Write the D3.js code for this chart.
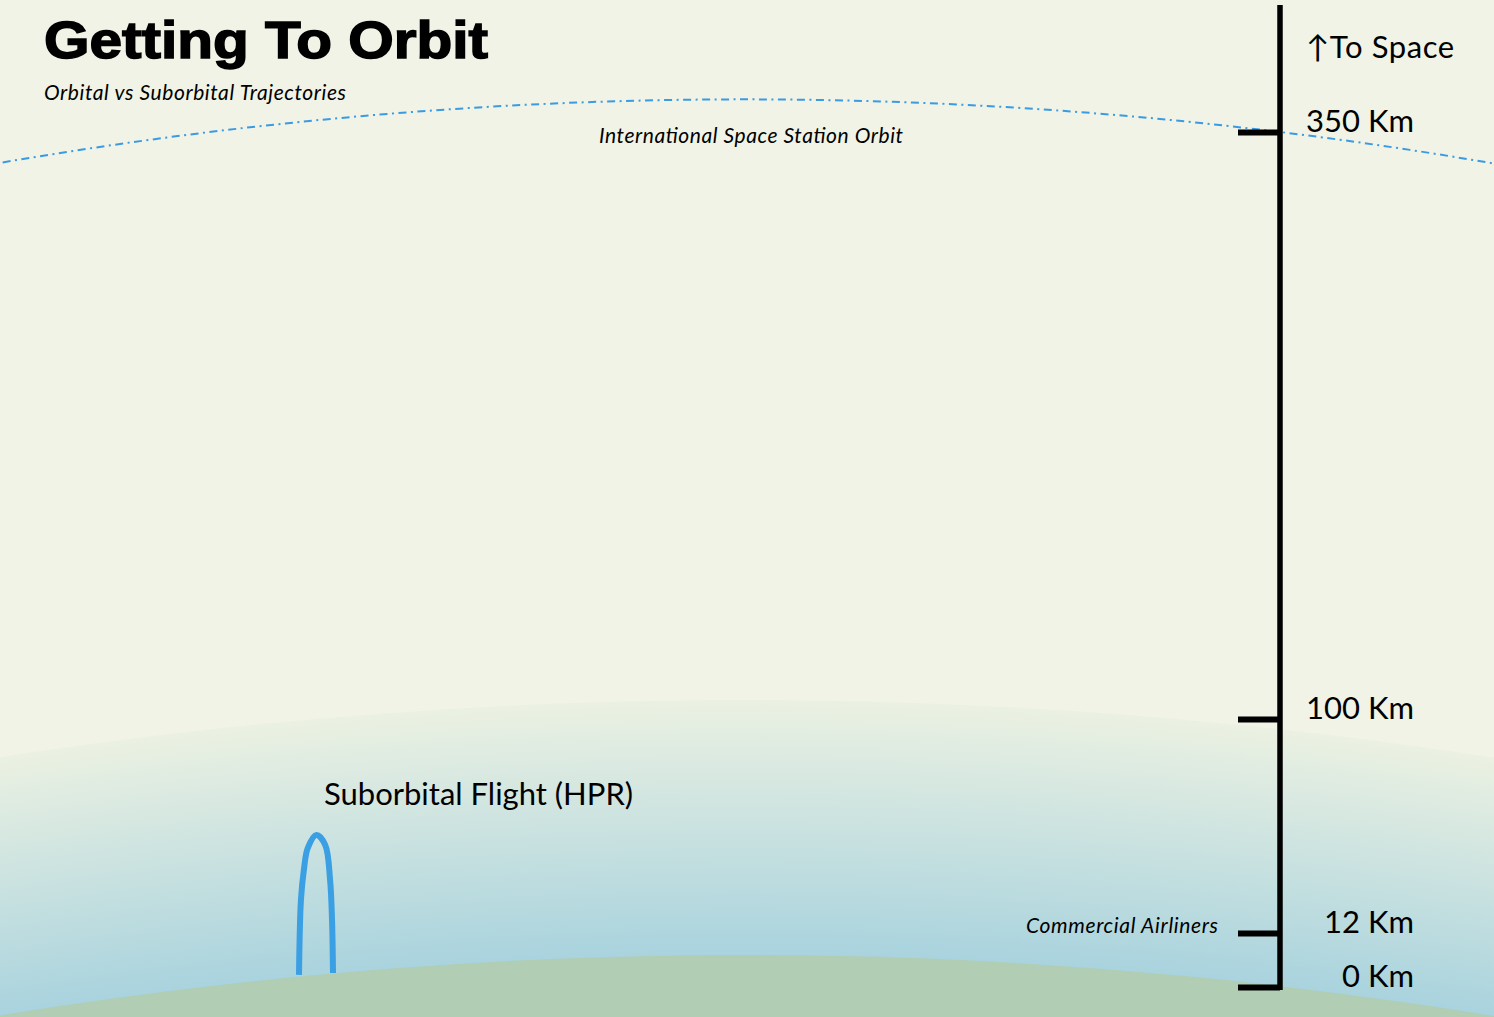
<!DOCTYPE html>
<html>
<head>
<meta charset="utf-8">
<script src="https://cdn.jsdelivr.net/npm/d3@7"></script>
<style>
  body { margin: 0; background: #f0f3e6; }
  svg { display: block; }
</style>
</head>
<body>
<script>
const width = 1494;
const height = 1017;

// altitude marks on the scale (km)
const altitudeTicks = [0, 12, 100, 350];
const tickLabels = ["0 Km", "12 Km", "100 Km", "350 Km"];

// suborbital (HPR) trajectory: downrange km vs altitude km
const hprRange = [0, 2, 5, 9, 18, 27, 32, 34, 35];
const hprAltitude = [2.7, 25.6, 37.9, 46.9, 52.3, 48.2, 33.8, 17.3, 3.1];

const issAltitude = 350;
const airlinerAltitude = 12;

// vertical scale: piecewise so low altitudes get room
const y = d3.scaleLinear()
  .domain(altitudeTicks)
  .range([987, 933, 719, 132]);

const x = d3.scaleLinear().domain([0, 35]).range([299, 333]);

const axisX = 1280;
const planet = { cx: 745, top: 955, r: 4625, atmo: 4880 };
planet.cy = planet.top + planet.r;

const svg = d3.select("body")
  .append("svg")
  .attr("width", width)
  .attr("height", height);

svg.append("rect")
  .attr("width", width)
  .attr("height", height)
  .attr("fill", "#f0f3e6");

const defs = svg.append("defs");
const grad = defs.append("radialGradient")
  .attr("id", "atmo")
  .attr("gradientUnits", "userSpaceOnUse")
  .attr("cx", planet.cx)
  .attr("cy", planet.cy)
  .attr("r", planet.atmo);
grad.append("stop").attr("offset", planet.r / planet.atmo).attr("stop-color", "#a9d3de");
grad.append("stop").attr("offset", 1).attr("stop-color", "#ebf1e2");

// atmosphere
svg.append("circle")
  .attr("cx", planet.cx)
  .attr("cy", planet.cy)
  .attr("r", planet.atmo)
  .attr("fill", "url(#atmo)");

// earth
svg.append("circle")
  .attr("cx", planet.cx)
  .attr("cy", planet.cy)
  .attr("r", planet.r)
  .attr("fill", "#b1cdb4");

// ISS orbit, passes through the 350 km tick on the axis
const orbitR = 4400;
const dx = axisX - planet.cx;
const orbitCy = y(issAltitude) + Math.sqrt(orbitR * orbitR - dx * dx);
svg.append("circle")
  .attr("cx", planet.cx)
  .attr("cy", orbitCy)
  .attr("r", orbitR)
  .attr("fill", "none")
  .attr("stroke", "#3a9be2")
  .attr("stroke-width", 2)
  .attr("stroke-dasharray", "8,4.5,2,4.5");

svg.append("text")
  .attr("x", 599)
  .attr("y", 143)
  .attr("font-family", "Lato")
  .attr("font-style", "italic")
  .attr("font-size", 21)
  .attr("textLength", 304)
  .attr("lengthAdjust", "spacing")
  .text("International Space Station Orbit");

// suborbital trajectory
const hpr = hprRange.map((r, i) => [r, hprAltitude[i]]);
svg.append("path")
  .datum(hpr)
  .attr("fill", "none")
  .attr("stroke", "#3a9fe3")
  .attr("stroke-width", 6)
  .attr("d", d3.line()
    .x(d => x(d[0]))
    .y(d => y(d[1]))
    .curve(d3.curveCatmullRom));

svg.append("text")
  .attr("x", 324)
  .attr("y", 805)
  .attr("font-family", "Lato")
  .attr("font-size", 31)
  .text("Suborbital Flight (HPR)");

// altitude axis
svg.append("line")
  .attr("x1", axisX).attr("x2", axisX)
  .attr("y1", 5).attr("y2", y(0) + 3)
  .attr("stroke", "#000")
  .attr("stroke-width", 5.5);

const axis = d3.axisLeft(y)
  .tickValues(altitudeTicks)
  .tickSize(42)
  .tickFormat("");

const gAxis = svg.append("g")
  .attr("transform", `translate(${axisX},0)`)
  .call(axis);
gAxis.select(".domain").remove();
gAxis.selectAll(".tick line")
  .attr("stroke", "#000")
  .attr("stroke-width", 6);

svg.selectAll(".alt-label")
  .data(altitudeTicks)
  .join("text")
  .attr("class", "alt-label")
  .attr("x", 1414)
  .attr("y", d => y(d))
  .attr("text-anchor", "end")
  .attr("font-family", "Lato")
  .attr("font-size", 31)
  .text((d, i) => tickLabels[i]);

svg.append("text")
  .attr("x", 1306)
  .attr("y", 58)
  .attr("font-family", "Lato")
  .attr("font-size", 31)
  .attr("letter-spacing", 0.6)
  .text("↑To Space");

svg.append("text")
  .attr("x", 1026)
  .attr("y", y(airlinerAltitude))
  .attr("font-family", "Lato")
  .attr("font-style", "italic")
  .attr("font-size", 21)
  .attr("textLength", 192)
  .attr("lengthAdjust", "spacing")
  .text("Commercial Airliners");

// titles
svg.append("text")
  .attr("x", 44)
  .attr("y", 58)
  .attr("font-family", "Liberation Sans")
  .attr("font-weight", "bold")
  .attr("font-size", 52)
  .attr("textLength", 444)
  .attr("lengthAdjust", "spacingAndGlyphs")
  .attr("stroke", "#000")
  .attr("stroke-width", 1.5)
  .text("Getting To Orbit");

svg.append("text")
  .attr("x", 44)
  .attr("y", 100)
  .attr("font-family", "Lato")
  .attr("font-style", "italic")
  .attr("font-size", 21)
  .attr("textLength", 302)
  .attr("lengthAdjust", "spacing")
  .text("Orbital vs Suborbital Trajectories");
</script>
</body>
</html>
